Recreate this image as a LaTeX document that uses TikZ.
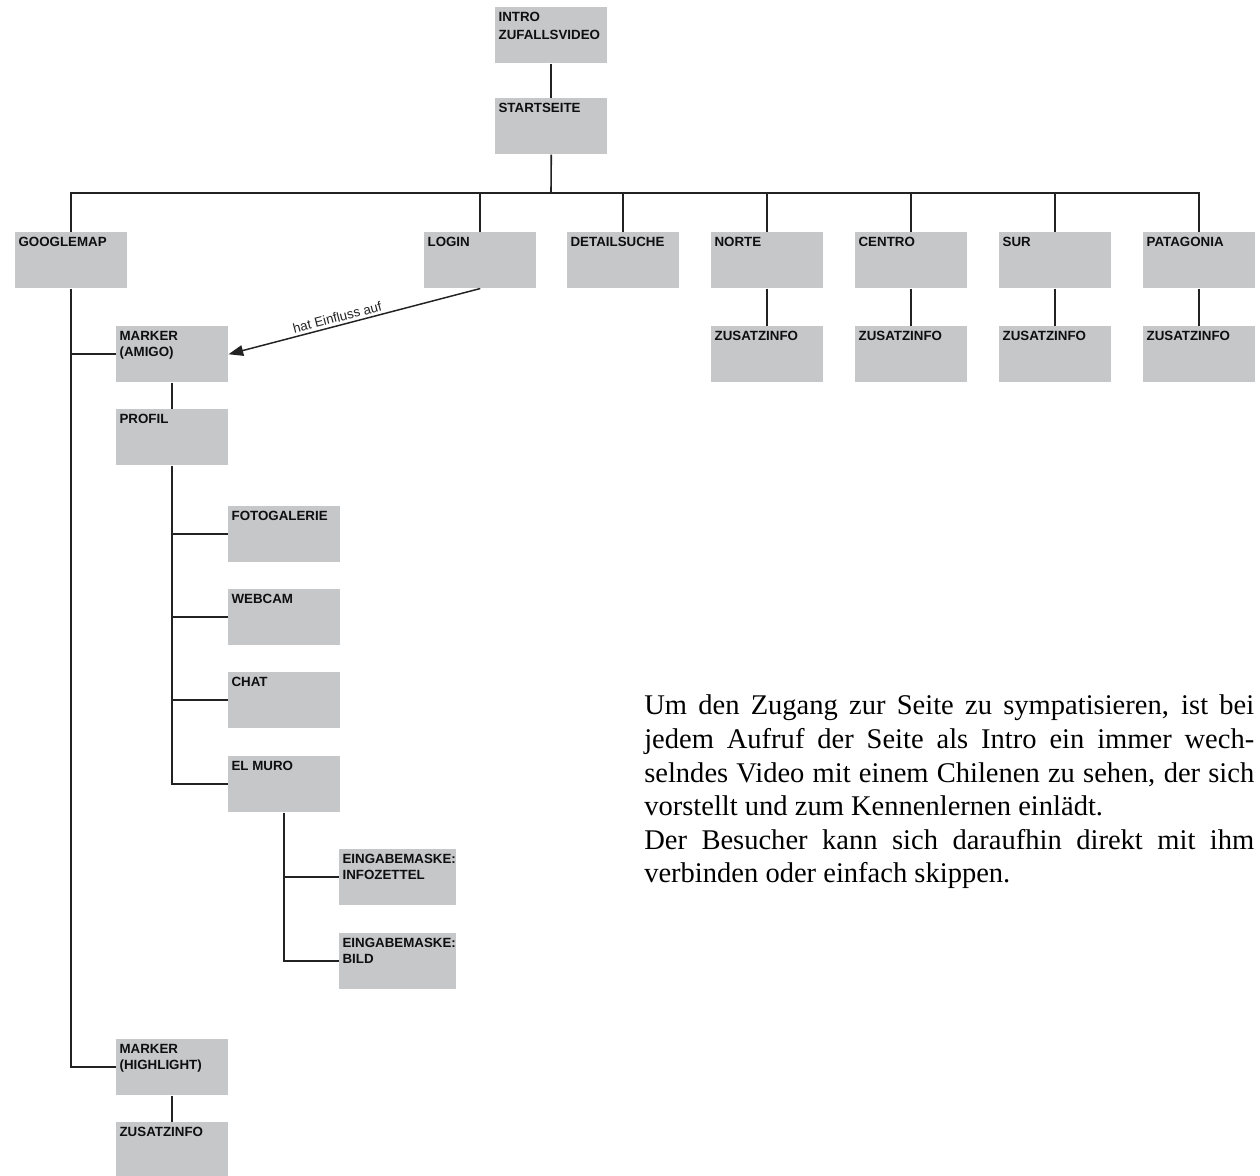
\documentclass[tikz,border=0pt]{standalone}
\usepackage{fontspec}
\setmainfont{Liberation Serif}
\newfontfamily\hv{Liberation Sans}
\usetikzlibrary{arrows.meta}
\definecolor{boxgray}{RGB}{198,199,201}
\definecolor{linec}{RGB}{34,34,34}
\definecolor{txtc}{RGB}{15,15,15}
\newcommand{\bxt}[2][84pt]{\parbox[t][42pt][t]{#1}{\raggedright\leftskip=2.5pt\hv\bfseries\fontsize{10}{11.8}\selectfont\color{txtc}\rule{0pt}{11pt}#2}}
\begin{document}
\begin{tikzpicture}[x=0.75pt,y=-0.75pt,
  box/.style={fill=boxgray, inner sep=0pt, anchor=north west},
  conn/.style={draw=linec, line width=1.2pt},
  infl/.style={draw=linec, line width=1.1pt, -{Triangle[length=11pt,width=8pt]}},
  lbl/.style={font=\hv\fontsize{10}{12}\selectfont, text=linec, inner sep=2pt}]
\fill[white] (0,0) rectangle (1260,1176);
\useasboundingbox (0,0) rectangle (1260,1176);

\node[box] (intro) at (495,7) {\bxt{INTRO\\[1.5pt]ZUFALLSVIDEO}};
\node[box] (start) at (495,98) {\bxt{STARTSEITE}};

\node[box] (gmap) at (15,232) {\bxt{GOOGLEMAP}};
\node[box] (login) at (424,232) {\bxt{LOGIN}};
\node[box] (detail) at (567,232) {\bxt{DETAILSUCHE}};
\node[box] (norte) at (711,232) {\bxt{NORTE}};
\node[box] (centro) at (855,232) {\bxt{CENTRO}};
\node[box] (sur) at (999,232) {\bxt{SUR}};
\node[box] (pata) at (1143,232) {\bxt{PATAGONIA}};

\node[box] (znorte) at (711,326) {\bxt{ZUSATZINFO}};
\node[box] (zcentro) at (855,326) {\bxt{ZUSATZINFO}};
\node[box] (zsur) at (999,326) {\bxt{ZUSATZINFO}};
\node[box] (zpata) at (1143,326) {\bxt{ZUSATZINFO}};

\node[box] (amigo) at (116,326) {\bxt{MARKER\\(AMIGO)}};
\node[box] (profil) at (116,409) {\bxt{PROFIL}};
\node[box] (foto) at (228,506) {\bxt{FOTOGALERIE}};
\node[box] (webcam) at (228,589) {\bxt{WEBCAM}};
\node[box] (chat) at (228,672) {\bxt{CHAT}};
\node[box] (muro) at (228,756) {\bxt{EL MURO}};
\node[box] (info) at (339,849) {\bxt[87.75pt]{EINGABEMASKE:\\INFOZETTEL}};
\node[box] (bild) at (339,933) {\bxt[87.75pt]{EINGABEMASKE:\\BILD}};
\node[box] (hl) at (116,1039) {\bxt{MARKER\\(HIGHLIGHT)}};
\node[box] (zhl) at (116,1122) {\bxt{ZUSATZINFO}};

% top tree
\coordinate (bus) at (551,193);
\draw[conn] (intro.south) -- (start.north);
\draw[conn] (start.south) -- (bus);
\draw[conn] (gmap.north) |- (bus) -| (pata.north);
\foreach \n in {login,detail,norte,centro,sur}
  \draw[conn] (\n.north) -- (\n.north |- bus);
\draw[conn] (norte.south) -- (znorte.north);
\draw[conn] (centro.south) -- (zcentro.north);
\draw[conn] (sur.south) -- (zsur.north);
\draw[conn] (pata.south) -- (zpata.north);

% left tree
\draw[conn] (gmap.south) |- (hl.west);
\draw[conn] (gmap.south |- amigo.west) -- (amigo.west);
\draw[conn] (amigo.south) -- (profil.north);
\draw[conn] (profil.south) |- (muro.west);
\foreach \n in {foto,webcam,chat}
  \draw[conn] (profil.south |- \n.west) -- (\n.west);
\draw[conn] (muro.south) |- (bild.west);
\draw[conn] (muro.south |- info.west) -- (info.west);
\draw[conn] (hl.south) -- (zhl.north);

% influence arrow
\draw[infl] (login.south) -- node[lbl, sloped, above, pos=0.56] {hat Einfluss auf} (amigo.east);

% paragraph
\node[anchor=north west, inner sep=0pt, text width=457.5pt, align=justify,
      font=\fontsize{21.4}{25.2}\selectfont, text=black] (txt) at (644,688)
 {\rule{0pt}{20pt}Um den Zugang zur Seite zu sympatisieren, ist bei\linebreak
  jedem Aufruf der Seite als Intro ein immer wech-\linebreak
  selndes Video mit einem Chilenen zu sehen, der sich\linebreak
  vorstellt und zum Kennenlernen einlädt.\\
  Der Besucher kann sich daraufhin direkt mit ihm\linebreak
  verbinden oder einfach skippen.};
\end{tikzpicture}
\end{document}
